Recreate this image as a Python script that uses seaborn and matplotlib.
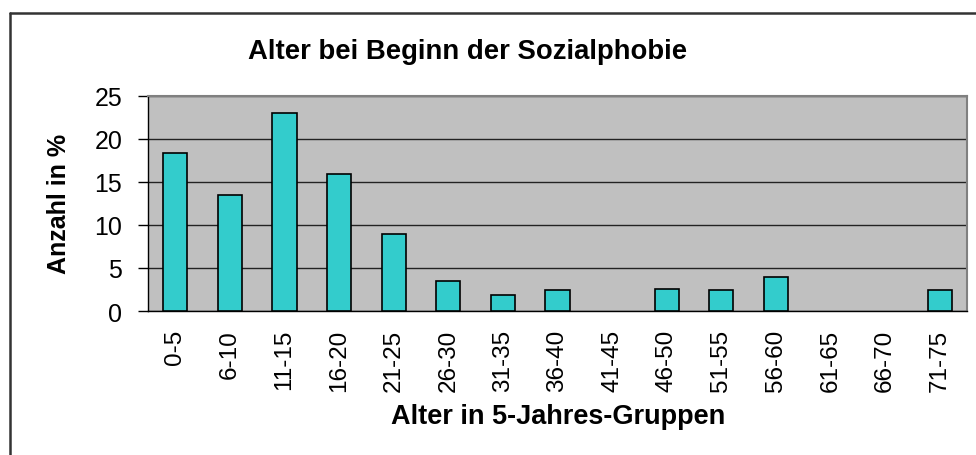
import matplotlib
matplotlib.use("Agg")
import matplotlib.pyplot as plt
from matplotlib.lines import Line2D
import numpy as np
import pandas as pd
import seaborn as sns

# Altersgruppen und Anteile (in %)
groups = ["0-5", "6-10", "11-15", "16-20", "21-25", "26-30", "31-35", "36-40",
          "41-45", "46-50", "51-55", "56-60", "61-65", "66-70", "71-75"]
percent = [18.4, 13.5, 23.0, 15.9, 9.0, 3.5, 1.9, 2.4,
           0.0, 2.6, 2.4, 3.9, 0.0, 0.0, 2.4]
y_ticks = [0, 5, 10, 15, 20, 25]

sns.set_style("white")
plt.rcParams["font.family"] = ["Liberation Sans", "DejaVu Sans"]
plt.rcParams["text.color"] = "black"
plt.rcParams["xtick.color"] = "black"
plt.rcParams["ytick.color"] = "black"

df = pd.DataFrame({"Gruppe": groups, "Anteil": percent})

fig = plt.figure(figsize=(9.76, 4.56), dpi=100)
W, H = 976, 456
ax = fig.add_axes([148 / W, 1 - 312 / H, (967 - 148) / W, (312 - 97) / H])
ax.set_facecolor("#C0C0C0")

sns.barplot(data=df, x="Gruppe", y="Anteil", color="#33CCCC", saturation=1,
            edgecolor="black", linewidth=1.2, width=0.44, ax=ax, zorder=3)
# leere Gruppen ohne sichtbaren Rand
for bar in ax.patches:
    if bar.get_height() == 0:
        bar.set_visible(False)

ax.set_xlim(-0.5, len(groups) - 0.5)
ax.set_ylim(0, 25)
ax.set_yticks(y_ticks)
ax.set_yticklabels([str(t) for t in y_ticks], fontsize=18)
ax.grid(axis="y", color="#222222", linewidth=1, zorder=1)
ax.grid(axis="x", visible=False)

ax.set_xticks(range(len(groups)))
ax.set_xticklabels(groups, rotation=90, fontsize=17.5)
ax.set_xticks(np.arange(-0.5, len(groups)), minor=True)
ax.tick_params(axis="x", which="major", length=0, pad=13)
ax.tick_params(axis="x", which="minor", length=4.5, width=1, color="black", direction="out")
ax.tick_params(axis="y", length=7.5, width=1, color="black", direction="out", pad=11, left=True)

for side in ["left", "bottom"]:
    ax.spines[side].set_color("black")
    ax.spines[side].set_linewidth(1)
ax.spines["top"].set_color("#808080")
ax.spines["right"].set_color("#808080")
ax.spines["top"].set_linewidth(1.5)
ax.spines["right"].set_linewidth(1.5)

ax.set_xlabel("")
ax.set_ylabel("")
fig.text(468 / W, 1 - 52 / H, "Alter bei Beginn der Sozialphobie",
         ha="center", va="center", fontsize=19.8, fontweight="bold")
fig.text(558 / W, 1 - 417 / H, "Alter in 5-Jahres-Gruppen",
         ha="center", va="center", fontsize=19.5, fontweight="bold")
fig.text(59 / W, 1 - 204 / H, "Anzahl in %", rotation=90,
         ha="center", va="center", fontsize=18, fontweight="bold")

# Rahmen des Diagrammbereichs (nur links und oben sichtbar)
fig.add_artist(Line2D([10 / W, 10 / W], [0, 1 - 14 / H], color="#333333", linewidth=1.8))
fig.add_artist(Line2D([10 / W, 1], [1 - 14 / H, 1 - 14 / H], color="#333333", linewidth=1.8))

fig.savefig("out.png", dpi=100)
